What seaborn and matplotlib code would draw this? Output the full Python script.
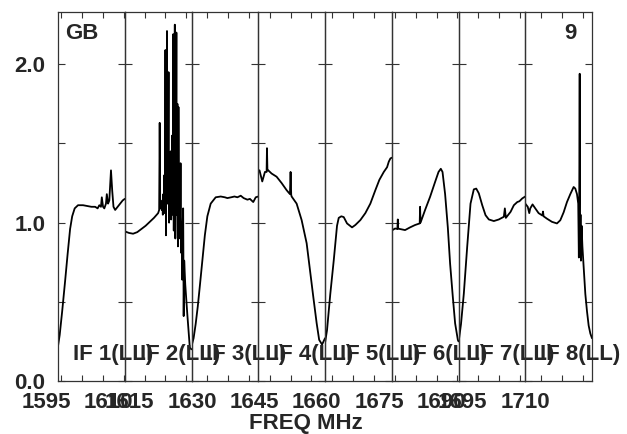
import numpy as np
import pandas as pd
import matplotlib
matplotlib.use("Agg")
import matplotlib.pyplot as plt
import seaborn as sns
from matplotlib.ticker import MultipleLocator

# IF start frequencies (MHz), each IF is 16 MHz wide
if_start = [1599.25, 1615.25, 1631.25, 1647.25, 1663.25, 1679.25, 1695.25, 1711.25]
if_width = 16.0
if_names = ["IF 1(LL)", "IF 2(LL)", "IF 3(LL)", "IF 4(LL)",
            "IF 5(LL)", "IF 6(LL)", "IF 7(LL)", "IF 8(LL)"]

# bandpass amplitude per IF, frequency given as offset (MHz) from IF start
if1_off = [0.0, 0.4, 1.0, 1.7, 2.3, 2.9, 3.4, 4.0, 4.8, 6.0, 7.0, 8.0, 8.9, 9.5, 9.9,
           10.3, 10.5, 10.8, 11.1, 11.5, 11.7, 12.0, 12.3, 12.7, 13.0, 13.3, 13.7,
           14.3, 14.9, 15.5, 16.0]
if1_amp = [0.22, 0.29, 0.44, 0.63, 0.80, 0.96, 1.04, 1.09, 1.11, 1.11, 1.105, 1.10, 1.10,
           1.09, 1.11, 1.10, 1.16, 1.10, 1.09, 1.12, 1.18, 1.12, 1.14, 1.33, 1.20, 1.10,
           1.08, 1.10, 1.12, 1.14, 1.15]

if2_off = [0.0, 1.0, 2.0, 3.0, 4.0, 5.0, 6.0, 7.0, 7.5, 8.0,
           8.125, 8.25, 8.375, 8.5, 8.625, 8.75, 8.875, 9.0, 9.125, 9.25, 9.375, 9.5,
           9.625, 9.75, 9.875, 10.0, 10.125, 10.25, 10.375, 10.5, 10.625, 10.75, 10.875,
           11.0, 11.125, 11.25, 11.375, 11.5, 11.625, 11.75, 11.875, 12.0, 12.125, 12.25,
           12.375, 12.5, 12.625, 12.75, 12.875, 13.0, 13.125, 13.25, 13.375, 13.5, 13.625,
           13.75, 13.875, 14.0, 14.125, 14.25, 14.5, 15.0, 15.6, 16.0]
if2_amp = [0.945, 0.935, 0.93, 0.94, 0.96, 0.98, 1.005, 1.03, 1.045, 1.06,
           1.07, 1.08, 1.63, 1.09, 1.10, 1.12, 1.08, 1.14, 1.05, 1.18, 1.10, 1.30,
           1.06, 2.09, 0.92, 1.60, 2.21, 1.12, 1.35, 1.95, 1.00, 1.25, 1.10,
           1.45, 1.02, 1.20, 1.55, 1.05, 2.19, 0.95, 1.70, 2.25, 0.90, 1.40,
           2.20, 1.05, 1.75, 0.85, 1.73, 1.10, 1.20, 0.90, 1.375, 0.81, 1.00,
           0.64, 0.98, 1.09, 0.41, 0.76, 0.61, 0.42, 0.21, 0.20]

if3_off = [0.0, 0.5, 1.0, 1.5, 2.0, 2.6, 3.2, 3.8, 4.6, 5.8, 7.0, 8.0, 8.6, 9.5, 10.3,
           11.0, 11.8, 12.5, 13.4, 14.0, 14.8, 15.4, 16.0]
if3_amp = [0.22, 0.27, 0.36, 0.47, 0.60, 0.76, 0.92, 1.04, 1.12, 1.16, 1.165, 1.16, 1.155,
           1.16, 1.165, 1.16, 1.17, 1.155, 1.145, 1.15, 1.13, 1.16, 1.165]

if4_off = [0.0, 0.3, 0.96, 1.6, 2.0, 2.09, 2.2, 2.4, 3.2, 4.4, 5.6, 6.8, 7.6, 7.75, 7.9,
           8.0, 9.2, 10.4, 11.6, 12.4, 13.2, 14.0, 14.6, 15.3, 16.0]
if4_amp = [1.33, 1.33, 1.26, 1.32, 1.32, 1.47, 1.33, 1.33, 1.31, 1.29, 1.25, 1.205, 1.18,
           1.32, 1.175, 1.165, 1.12, 1.016, 0.87, 0.70, 0.53, 0.365, 0.26, 0.23, 0.27]

if5_off = [0.0, 0.48, 1.27, 2.09, 2.88, 3.29, 3.91, 4.49, 5.28, 6.48, 7.27, 8.47, 9.67,
           10.87, 12.07, 13.03, 14.09, 14.88, 15.29, 15.67, 16.0]
if5_amp = [0.24, 0.32, 0.55, 0.76, 0.98, 1.03, 1.04, 1.035, 0.995, 0.97, 0.985, 1.016,
           1.06, 1.12, 1.205, 1.27, 1.32, 1.35, 1.385, 1.405, 1.41]

if6_off = [0.0, 0.8, 1.35, 1.45, 1.55, 3.19, 4.39, 5.59, 6.7, 6.79, 6.9, 7.99, 9.19,
           10.39, 11.21, 11.76, 12.17, 12.79, 13.44, 13.99, 14.64, 15.19, 15.84, 16.0]
if6_amp = [0.95, 0.963, 0.96, 1.02, 0.962, 0.953, 0.97, 0.985, 0.995, 1.10, 1.00, 1.08,
           1.163, 1.257, 1.32, 1.34, 1.32, 1.18, 0.97, 0.74, 0.53, 0.364, 0.26, 0.25]

if7_off = [0.0, 0.6, 1.27, 2.09, 2.88, 3.67, 4.25, 4.87, 5.69, 6.48, 7.27, 8.47, 9.67,
           10.87, 11.11, 11.35, 12.48, 13.27, 14.09, 14.6, 15.29, 16.0]
if7_amp = [0.24, 0.36, 0.55, 0.85, 1.12, 1.21, 1.215, 1.185, 1.11, 1.047, 1.02, 1.01,
           1.02, 1.037, 1.09, 1.03, 1.068, 1.11, 1.13, 1.135, 1.153, 1.165]

if8_off = [0.0, 0.6, 0.96, 1.2, 1.75, 2.4, 3.2, 4.1, 4.25, 4.4, 5.2, 6.4, 7.6, 8.4, 9.2,
           10.0, 10.8, 11.6, 12.0, 12.4, 12.7, 12.85, 12.95, 13.05, 13.15, 13.25, 13.35,
           13.5, 13.7, 14.0, 14.4, 14.8, 15.2, 15.6, 16.0]
if8_amp = [1.12, 1.10, 1.06, 1.09, 1.115, 1.09, 1.06, 1.045, 1.07, 1.04, 1.025, 1.005,
           0.995, 1.015, 1.065, 1.13, 1.18, 1.225, 1.215, 1.18, 1.12, 0.78, 1.20, 1.94,
           0.80, 1.05, 0.76, 0.98, 0.85, 0.72, 0.55, 0.44, 0.35, 0.30, 0.27]

offsets = [if1_off, if2_off, if3_off, if4_off, if5_off, if6_off, if7_off, if8_off]
amps = [if1_amp, if2_amp, if3_amp, if4_amp, if5_amp, if6_amp, if7_amp, if8_amp]

freq_labels = [1595, 1610, 1615, 1630, 1645, 1660, 1675, 1690, 1695, 1710]
y_ticks = [0.0, 0.5, 1.0, 1.5, 2.0]
y_labels = ["0.0", "", "1.0", "", "2.0"]

sns.set_style("ticks")
plt.rcParams["font.family"] = ["Liberation Sans", "DejaVu Sans"]
plt.rcParams["font.weight"] = "bold"
plt.rcParams["font.size"] = 16

fig, axes = plt.subplots(1, 8, sharey=True, figsize=(6.27, 4.34), dpi=100)
L, R, B, T = 58 / 627, 592 / 627, 53 / 434, 422 / 434
fig.subplots_adjust(left=L, right=R, bottom=B, top=T, wspace=0)

frame_col = "#333333"
for i, ax in enumerate(axes):
    ax.patch.set_alpha(0)
    df = pd.DataFrame({"freq": np.array(offsets[i]) + if_start[i], "amp": amps[i]})
    sns.lineplot(data=df, x="freq", y="amp", ax=ax, color="black", lw=1.3,
                 estimator=None, sort=False)
    ax.set_xlim(if_start[i], if_start[i] + if_width)
    ax.set_ylim(0, 2.33)
    ax.xaxis.set_major_locator(MultipleLocator(5))
    ax.set_xlabel("")
    ax.set_ylabel("")
    ax.tick_params(axis="x", direction="in", length=4.3, width=0.8, color=frame_col,
                   top=True, bottom=True, labelbottom=False)
    ax.tick_params(axis="y", direction="in", length=5, width=0.8, color=frame_col,
                   left=True, right=True, pad=9)
    for s in ax.spines.values():
        s.set_visible(True)
        s.set_color(frame_col)
        s.set_linewidth(0.9)
    ax.text(15 / 66.75, 21 / 369, if_names[i], transform=ax.transAxes,
            ha="left", va="baseline", fontsize=16, fontweight="bold", clip_on=False)

axes[0].set_yticks(y_ticks)
axes[0].set_yticklabels(y_labels)
axes[0].text(7 / 66.75, 342 / 369, "GB", transform=axes[0].transAxes,
             ha="left", va="baseline", fontsize=16, fontweight="bold")
axes[-1].text(51 / 66.75, 342 / 369, "9", transform=axes[-1].transAxes,
              ha="right", va="baseline", fontsize=16, fontweight="bold")

# frequency labels along the bottom
lab = fig.add_axes([0, B, 1, T - B])
lab.patch.set_alpha(0)
for s in lab.spines.values():
    s.set_visible(False)
lab.set_yticks([])
px_per_mhz = 4.1625
lab.set_xlim(1595 - 46.3 / px_per_mhz, 1595 + (627 - 46.3) / px_per_mhz)
lab.set_xticks(freq_labels)
lab.set_xticklabels([str(f) for f in freq_labels])
lab.tick_params(axis="x", length=0, pad=8)

fig.text(306 / 627, 5 / 434, "FREQ MHz", ha="center", va="baseline",
         fontsize=16, fontweight="bold")

plt.savefig("out.png", dpi=100)
